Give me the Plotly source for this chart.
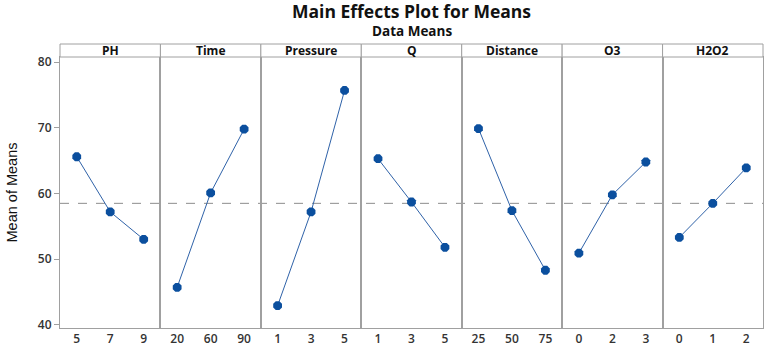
import plotly.graph_objects as go
from plotly.subplots import make_subplots

factors = ["PH", "Time", "Pressure", "Q", "Distance", "O3", "H2O2"]
levels = [
    ["5", "7", "9"],
    ["20", "60", "90"],
    ["1", "3", "5"],
    ["1", "3", "5"],
    ["25", "50", "75"],
    ["0", "2", "3"],
    ["0", "1", "2"],
]
means = [
    [65.6, 57.2, 53.0],
    [45.7, 60.1, 69.8],
    [42.9, 57.2, 75.7],
    [65.3, 58.7, 51.8],
    [69.9, 57.4, 48.3],
    [50.9, 59.8, 64.8],
    [53.3, 58.5, 63.9],
]
grand_mean = 58.5
y_ticks = [40, 50, 60, 70, 80]

W, H = 767, 346
ML, MR, MT, MB = 60, 4, 57, 18
plot_h = H - MT - MB

n = len(factors)
fig = make_subplots(rows=1, cols=n, shared_yaxes=True, horizontal_spacing=0)

border = "#a0a0a0"
tick_font = dict(family="Open Sans, sans-serif", size=12, color="#333333", weight=600)

for i in range(n):
    fig.add_trace(
        go.Scatter(
            x=[0, 1, 2],
            y=means[i],
            mode="lines+markers",
            line=dict(color="#2f62a8", width=1),
            marker=dict(color="#0b4f9e", size=9.5, symbol="octagon"),
            showlegend=False,
            hoverinfo="skip",
        ),
        row=1, col=i + 1,
    )
    fig.update_xaxes(
        range=[-0.5, 2.5],
        tickvals=[0, 1, 2],
        ticktext=levels[i],
        showgrid=False,
        zeroline=False,
        showline=True,
        linecolor=border,
        linewidth=1,
        mirror=True,
        ticks="",
        tickfont=tick_font,
        automargin=False,
        row=1, col=i + 1,
    )
    fig.update_yaxes(
        range=[39.5, 80.8],
        tickvals=y_ticks,
        showgrid=False,
        zeroline=False,
        showline=True,
        linecolor=border,
        linewidth=1,
        mirror=True,
        ticks="outside" if i == 0 else "",
        ticklen=5,
        tickcolor=border,
        tickfont=tick_font,
        automargin=False,
        row=1, col=i + 1,
    )

fig.update_yaxes(
    title=dict(text="Mean of Means",
               font=dict(family="Liberation Sans, Arial, sans-serif", size=14.5, color="#111111"),
               standoff=16),
    row=1, col=1,
)

# grand mean reference line
fig.add_shape(type="line", xref="paper", yref="y", x0=0, x1=1, y0=grand_mean, y1=grand_mean,
              line=dict(color="#8c8c8c", width=1, dash="dash"), layer="below")

# strip headers
strip_h = 13 / plot_h
for i, f in enumerate(factors):
    x0 = i / n
    x1 = (i + 1) / n
    fig.add_shape(type="rect", xref="paper", yref="paper", x0=x0, x1=x1, y0=1, y1=1 + strip_h,
                  line=dict(color=border, width=1), fillcolor="white")
    fig.add_annotation(x=(x0 + x1) / 2, y=1 + strip_h / 2, xref="paper", yref="paper",
                       text=f, showarrow=False, xanchor="center", yanchor="middle",
                       font=dict(family="Open Sans, sans-serif", size=12, color="#111111", weight=700))

fig.add_annotation(x=0.5, y=(H - 11 - MB) / plot_h, xref="paper", yref="paper",
                   text="Main Effects Plot for Means", showarrow=False, xanchor="center", yanchor="middle",
                   font=dict(family="Open Sans, sans-serif", size=17.5, color="#111111", weight=700))
fig.add_annotation(x=0.5, y=(H - 31 - MB) / plot_h, xref="paper", yref="paper",
                   text="Data Means", showarrow=False, xanchor="center", yanchor="middle",
                   font=dict(family="Open Sans, sans-serif", size=13.5, color="#111111", weight=700))

fig.update_layout(
    width=W, height=H,
    margin=dict(l=ML, r=MR, t=MT, b=MB),
    plot_bgcolor="white",
    paper_bgcolor="white",
)

fig.write_html("out.html", config={"displayModeBar": False},
               post_script="document.body.style.margin='0';document.body.style.overflow='hidden';")
